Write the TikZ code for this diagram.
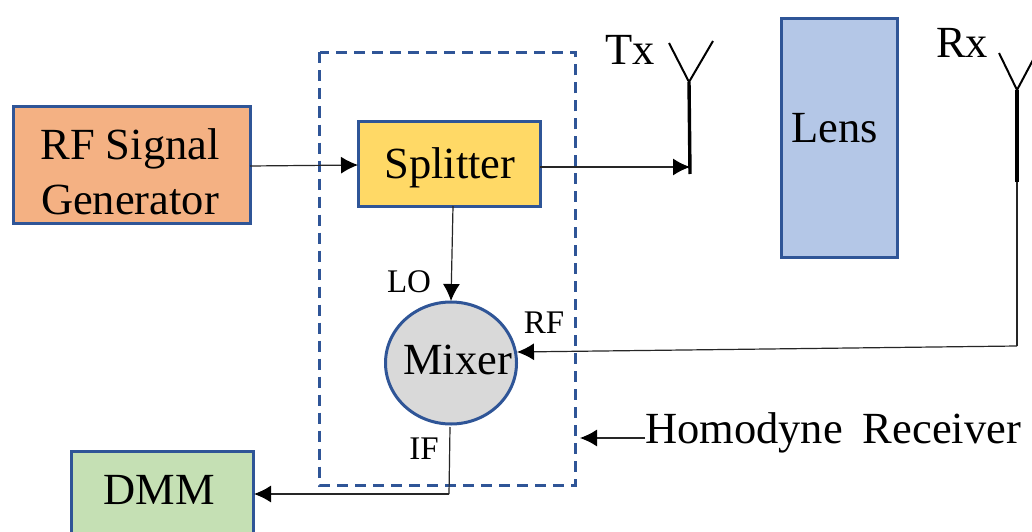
\documentclass[tikz,border=0pt]{standalone}
\usepackage{fontspec}
\setmainfont{Liberation Serif}
\usetikzlibrary{arrows.meta,shapes.geometric}
\definecolor{edgeblue}{HTML}{2F5597}
\definecolor{rforange}{HTML}{F4B183}
\definecolor{splityellow}{HTML}{FFD966}
\definecolor{lensblue}{HTML}{B4C7E7}
\definecolor{dmmgreen}{HTML}{C5E0B4}
\definecolor{mixgray}{HTML}{D9D9D9}
\tikzset{
  blockbox/.style={draw=edgeblue,line width=3pt,anchor=north west,inner sep=0pt},
  wire/.style={draw=black!85,line width=1.2pt,-{Latex[length=17pt,width=17pt,color=black]}},
  plainwire/.style={draw=black!85,line width=1.2pt},
  ant/.style={draw=black,line width=2pt},
  mast/.style={draw=black,line width=3.4pt},
  lab/.style={inner sep=0pt,text=black,font=\fontsize{33}{36}\selectfont},
  big/.style={inner sep=0pt,text=black,align=center,font=\fontsize{44.5}{55}\selectfont}
}
\begin{document}
\begin{tikzpicture}[x=1pt,y=-1pt]
\useasboundingbox (0,0) rectangle (1032,532);
\fill[white] (0,0) rectangle (1032,532);
\draw[edgeblue,line width=3pt,dash pattern=on 11pt off 7pt] (319.5,52.5) rectangle (575.5,485);
\node[blockbox,fill=rforange,minimum width=237pt,minimum height=117pt] (rf) at (12,105) {};
\node[blockbox,fill=splityellow,minimum width=182pt,minimum height=85pt] (split) at (357,120) {};
\node[blockbox,fill=lensblue,minimum width=116pt,minimum height=238pt] (lens) at (779.5,17.5) {};
\node[blockbox,fill=dmmgreen,minimum width=182pt,minimum height=100pt] (dmm) at (70,449.5) {};
\node[ellipse,draw=edgeblue,line width=3pt,fill=mixgray,minimum width=131pt,minimum height=122pt,inner sep=0pt] (mix) at (451,363) {};
\node[big] (rft) at (130,172) {RF Signal\\Generator};
\node[big] (splitt) at (450,168) {Splitter};
\node[big] (lenst) at (835,128) {Lens};
\node[big] (dmmt) at (159.5,490) {DMM};
\node[big] (mixt) at (457.5,360) {Mixer};
\coordinate (rfo) at (250,166);
\coordinate (spi) at (358,165);
\coordinate (spo) at (540,167);
\coordinate (txi) at (690,167);
\coordinate (spd) at (453,206);
\coordinate (mixn) at (451,301);
\coordinate (txb) at (690,174);
\coordinate (txt) at (689,82);
\coordinate (txl) at (669,43);
\coordinate (txr) at (713,41);
\coordinate (rxb) at (1017,182);
\coordinate (rxt) at (1017,90);
\coordinate (rxl) at (999,53);
\coordinate (rxr) at (1034,58);
\coordinate (rxc) at (1017,346);
\coordinate (mixe) at (517,352);
\coordinate (mixs) at (450,427);
\coordinate (ifc) at (449,494);
\coordinate (dmme) at (254,494);
\coordinate (hr) at (645,438);
\coordinate (hrt) at (580,438);
\draw[mast] (txb) -- (txt);
\draw[ant] (txl) -- (txt) -- (txr);
\draw[mast] (rxb) -- (rxt);
\draw[ant] (rxl) -- (rxt) -- (rxr);
\draw[wire] (rfo) -- (spi);
\draw[wire] (spo) -- (txi);
\draw[wire] (spd) -- (mixn);
\draw[plainwire] (rxb) -- (rxc);
\draw[wire] (rxc) -- (mixe);
\draw[plainwire] (mixs) -- (ifc);
\draw[wire] (ifc) -- (dmme);
\draw[wire] (hr) -- (hrt);
\node[big,anchor=west] (tx) at (605,50) {Tx};
\node[big,anchor=west] (rx) at (936,43) {Rx};
\node[lab] (lo) at (409,282) {LO};
\node[lab] (rfl) at (544,323) {RF};
\node[lab] (ifl) at (424,449) {IF};
\node[big,anchor=west] (hrl) at (645,433) {Homodyne\hspace{0.45em}Receiver};
\end{tikzpicture}
\end{document}
